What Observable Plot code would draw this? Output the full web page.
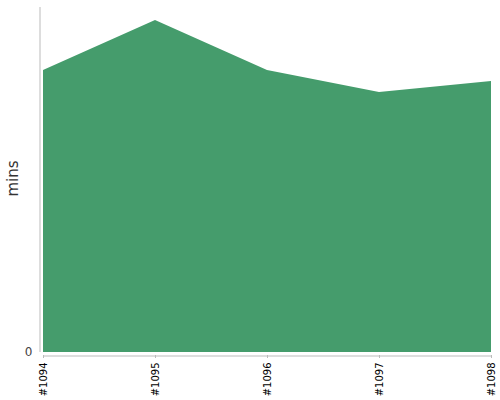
<!DOCTYPE html>
<html>
<head>
<meta charset="utf-8">
<script src="https://cdn.jsdelivr.net/npm/d3@7"></script>
<script src="https://cdn.jsdelivr.net/npm/@observablehq/plot@0.6"></script>
<style>
  html, body { margin: 0; padding: 0; background: #fff; }
  #chart svg { display: block; }
</style>
</head>
<body>
<div id="chart"></div>
<script>
const builds = ["#1094", "#1095", "#1096", "#1097", "#1098"];
const minutes = [81.0, 95.4, 81.0, 74.7, 77.9];
const yTicks = [0];
const yLabel = "mins";

const data = builds.map((b, i) => ({build: b, mins: minutes[i]}));

const chart = Plot.plot({
  width: 500,
  height: 400,
  marginLeft: 43,
  marginRight: 9,
  marginTop: 4,
  marginBottom: 48,
  style: {fontFamily: "DejaVu Sans, sans-serif", background: "#fff"},
  x: {type: "point", domain: builds, padding: 0},
  y: {domain: [0, 100]},
  marks: [
    Plot.areaY(data, {x: "build", y: "mins", fill: "#459c6c", curve: "linear"}),
    Plot.ruleX([0], {x: () => builds[0], dx: -3.5, y1: 0, y2: 100, stroke: "#bbb", insetBottom: -3}),
    Plot.ruleY([0], {dy: 3.5, x1: () => builds[0], x2: () => builds[builds.length - 1], stroke: "#bbb"}),
    Plot.axisX({tickRotate: -90, tickSize: 3, tickPadding: 4, dy: 3, fontSize: 10, stroke: "#bbb", color: "#000", label: null}),
    Plot.axisY({ticks: yTicks, tickSize: 0, tickPadding: 11, fontSize: 12, color: "#444", label: null}),
    Plot.text([yLabel], {frameAnchor: "left", textAnchor: "middle", dx: -30, rotate: -90, fontSize: 15, fill: "#333"})
  ]
});
document.getElementById("chart").appendChild(chart);
</script>
</body>
</html>
